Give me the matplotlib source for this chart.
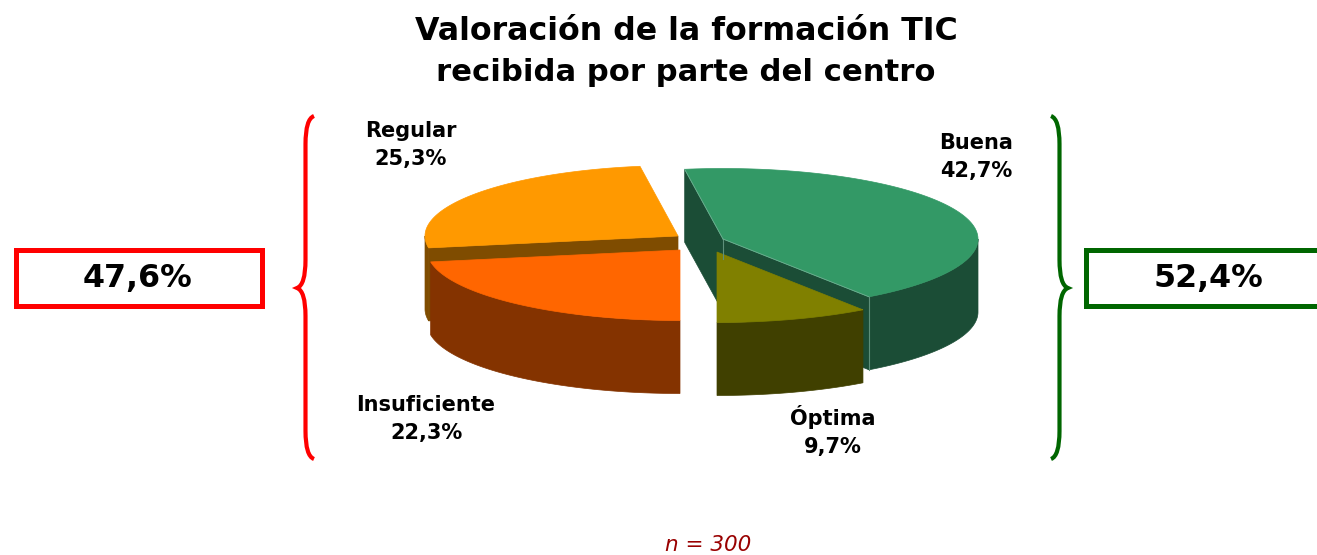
import numpy as np
import matplotlib
matplotlib.use('Agg')
import matplotlib.pyplot as plt
from matplotlib.patches import Rectangle, PathPatch
from matplotlib.path import Path

plt.rcParams['font.family'] = ['DejaVu Sans']

# Data, in drawing order round the pie starting from the bottom
labels = ['Óptima', 'Buena', 'Regular', 'Insuficiente']
values = [9.7, 42.7, 25.3, 22.3]
group_bad = '47,6%'
group_good = '52,4%'

top_colors = ['#808000', '#339966', '#FF9900', '#FF6600']
side_colors = ['#404000', '#1B4D36', '#7F4C00', '#843300']

# pixel space, same as the picture
fig = plt.figure(figsize=(13.17, 5.55), dpi=100)
ax = fig.add_axes([0, 0, 1, 1])
ax.set_xlim(0, 1317)
ax.set_ylim(555, 0)
ax.axis('off')

ry = 70.5
depth = 73
radius = {'Óptima': 255, 'Buena': 255, 'Regular': 253, 'Insuficiente': 253}
apex = {'Óptima': (717, 252), 'Buena': (723, 239), 'Regular': (678, 236), 'Insuficiente': (680, 250)}

# slice start/end angles (degrees clockwise from 12 o'clock)
ends = 180 - np.cumsum(values) * 3.6
starts = np.r_[180, ends[:-1]]
angles = {lab: (s, e) for lab, s, e in zip(labels, starts, ends)}
tops = dict(zip(labels, top_colors))
sides = dict(zip(labels, side_colors))


def arc(name, a0, a1):
    cx, cy = apex[name]
    t = np.radians(np.linspace(a0, a1, 120))
    return np.c_[cx + radius[name] * np.sin(t), cy - ry * np.cos(t)]


def side_face(pts, color):
    low = pts + [0, depth]
    poly = np.vstack([pts, low[::-1]])
    ax.fill(poly[:, 0], poly[:, 1], color=color, lw=0.5)


def draw_top(name):
    a0, a1 = angles[name]
    pts = np.vstack([apex[name], arc(name, a0, a1)])
    ax.fill(pts[:, 0], pts[:, 1], color=tops[name], lw=0.5)


# Buena
a0, a1 = angles['Buena']
c = np.array(apex['Buena'], float)
p0 = arc('Buena', a0, a0)[0]
p1 = arc('Buena', a1, a1)[0]
side_face(np.array([p1, c]), sides['Buena'])
side_face(np.array([c, p0]), sides['Buena'])
side_face(arc('Buena', a0, 90), sides['Buena'])
ax.plot([p0[0], p0[0]], [p0[1], p0[1] + depth], color='#5E8F7A', lw=0.8)
ax.plot([c[0], c[0]], [c[1], c[1] + 20], color='#5E8F7A', lw=0.8)
draw_top('Buena')
ax.plot([c[0], p0[0]], [c[1], p0[1]], color='#6FAF92', lw=0.6)
ax.plot([c[0], p1[0]], [c[1], p1[1]], color='#6FAF92', lw=0.6)

# Regular
a0, a1 = angles['Regular']
c = np.array(apex['Regular'], float)
p1 = arc('Regular', a1, a1)[0]
side_face(arc('Regular', -90, a1), sides['Regular'])
side_face(np.array([p1, c]), sides['Regular'])
draw_top('Regular')

# Insuficiente
a0, a1 = angles['Insuficiente']
side_face(arc('Insuficiente', a1, a0), sides['Insuficiente'])
draw_top('Insuficiente')

# Optima
a0, a1 = angles['Óptima']
side_face(arc('Óptima', a1, a0), sides['Óptima'])
draw_top('Óptima')

# Title
ax.text(686, 40, 'Valoración de la formación TIC', fontsize=22.75, fontweight='bold', ha='center', va='baseline')
ax.text(686, 81, 'recibida por parte del centro', fontsize=22.1, fontweight='bold', ha='center', va='baseline')

# Slice labels
label_pos = {'Regular': (411, 145), 'Buena': (976, 157), 'Insuficiente': (426, 419), 'Óptima': (833, 431)}
for lab, val in zip(labels, values):
    x, y = label_pos[lab]
    txt = lab + '\n' + ('%.1f%%' % val).replace('.', ',')
    ax.text(x, y, txt, fontsize=15, fontweight='bold', ha='center', va='center', linespacing=1.55)


def brace(x_tip, x_stem, x_end, y0, ymid, y1, color):
    verts = [(x_end, y0), (x_stem, y0 + 3), (x_stem, y0 + 28),
             (x_stem, ymid - 28),
             (x_stem, ymid - 3), (x_tip, ymid),
             (x_stem, ymid + 3), (x_stem, ymid + 28),
             (x_stem, y1 - 28),
             (x_stem, y1 - 3), (x_end, y1)]
    codes = [Path.MOVETO, Path.CURVE3, Path.CURVE3, Path.LINETO,
             Path.CURVE3, Path.CURVE3, Path.CURVE3, Path.CURVE3,
             Path.LINETO, Path.CURVE3, Path.CURVE3]
    ax.add_patch(PathPatch(Path(verts, codes), fill=False, edgecolor=color, lw=3))


brace(297, 305.5, 314, 116, 288, 459, '#FF0000')
brace(1068, 1059.5, 1051, 116, 288, 459, '#006600')

# Group totals
ax.add_patch(Rectangle((15.5, 249.5), 246, 56, facecolor='white', edgecolor='#FF0000', lw=3.6))
ax.text(138, 278, group_bad, fontsize=22.8, fontweight='bold', ha='center', va='center')
ax.add_patch(Rectangle((1085.5, 249.5), 260, 56, facecolor='white', edgecolor='#006600', lw=3.6))
ax.text(1208, 278, group_good, fontsize=22.8, fontweight='bold', ha='center', va='center')

ax.text(708, 545, 'n = 300', fontsize=15.5, style='italic', color='#990000', ha='center', va='center')

fig.savefig('out.png', dpi=100, facecolor='white')
